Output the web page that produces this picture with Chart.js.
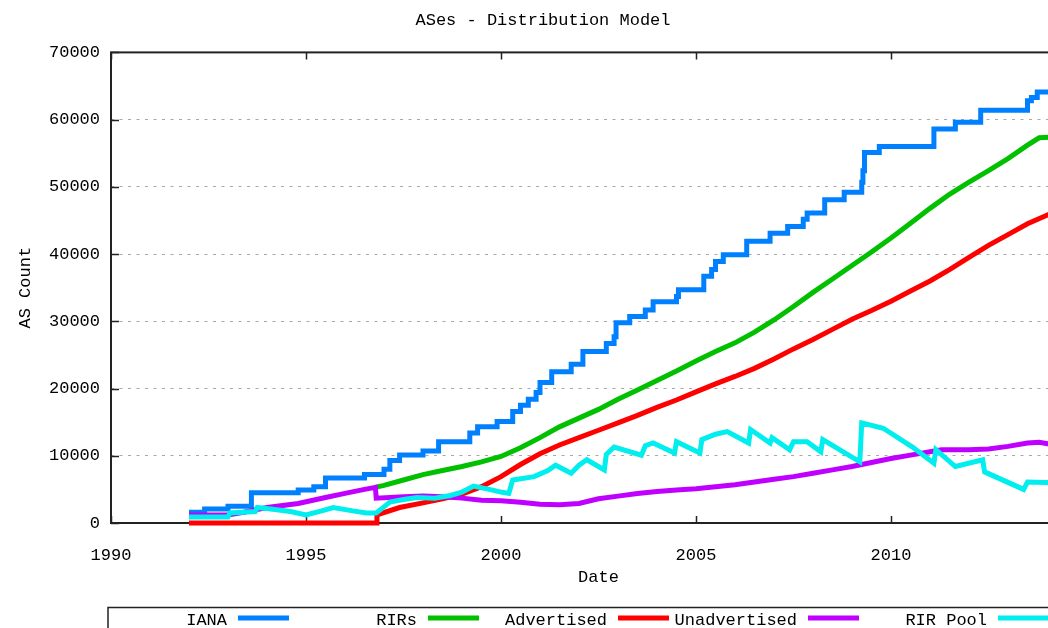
<!DOCTYPE html>
<html>
<head>
<meta charset="utf-8">
<script src="https://cdn.jsdelivr.net/npm/chart.js@4"></script>
<style>
  html, body { margin: 0; padding: 0; background: #fff; overflow: hidden; }
  #wrap { width: 1160px; height: 628px; }
</style>
</head>
<body>
<div id="wrap"><canvas id="chart" width="1160" height="628"></canvas></div>
<script>
// ASes - Distribution Model (gnuplot style line chart)

const seriesNames = ['IANA', 'RIRs', 'Advertised', 'Unadvertised', 'RIR Pool'];
const seriesColors = ['#0080ff', '#00c000', '#ff0000', '#c000ff', '#00eeee'];

// IANA: step function (x = year of step, y = new count)
const ianaYears = [1992.0, 1992.4, 1993.0, 1993.6, 1994.8, 1995.2, 1995.5, 1996.5, 1997.0, 1997.15,
  1997.4, 1998.0, 1998.4, 1999.2, 1999.4, 1999.9, 2000.3, 2000.5, 2000.7, 2000.9,
  2001.0, 2001.3, 2001.8, 2002.1, 2002.7, 2002.9, 2002.95, 2003.3, 2003.7, 2003.9,
  2004.5, 2004.55, 2005.2, 2005.4, 2005.5, 2005.7, 2006.3, 2006.9, 2007.35, 2007.75,
  2007.85, 2008.3, 2008.8, 2009.25, 2009.28, 2009.32, 2009.7, 2011.1, 2011.65, 2012.3,
  2013.5, 2013.6, 2013.75, 2014.2];
const ianaCounts = [1600, 2100, 2500, 4500, 4900, 5400, 6700, 7200, 8000, 9300,
  10100, 10700, 12100, 13400, 14300, 15100, 16600, 17500, 18400, 19400,
  20900, 22500, 23600, 25500, 26700, 27700, 29800, 30700, 31700, 32900,
  33700, 34700, 36700, 37700, 38900, 39900, 41900, 43100, 44100, 45200,
  46100, 48100, 49200, 50700, 52400, 55100, 56000, 58600, 59600, 61400,
  62800, 63300, 64100, 64100];

const rirYears = [1996.77, 1997.0, 1997.5, 1998.0, 1998.5, 1999.0, 1999.5, 2000.0, 2000.5, 2001.0,
  2001.5, 2002.0, 2002.5, 2003.0, 2003.5, 2004.0, 2004.5, 2005.0, 2005.5, 2006.0,
  2006.5, 2007.0, 2007.5, 2008.0, 2008.5, 2009.0, 2009.5, 2010.0, 2010.5, 2011.0,
  2011.5, 2012.0, 2012.5, 2013.0, 2013.5, 2013.8, 2014.2];
const rirCounts = [5300, 5600, 6400, 7200, 7800, 8400, 9100, 9900, 11200, 12700,
  14300, 15600, 16900, 18400, 19800, 21200, 22600, 24100, 25500, 26800,
  28400, 30200, 32200, 34300, 36300, 38300, 40300, 42400, 44600, 46800,
  48900, 50700, 52400, 54200, 56200, 57300, 57400];

const advYears = [1992.0, 1996.8, 1996.82, 1997.4, 1998.0, 1998.5, 1999.0, 1999.5, 2000.0, 2000.5,
  2001.0, 2001.5, 2002.0, 2002.5, 2003.0, 2003.5, 2004.0, 2004.5, 2005.0, 2005.5,
  2006.0, 2006.5, 2007.0, 2007.5, 2008.0, 2008.5, 2009.0, 2009.5, 2010.0, 2010.5,
  2011.0, 2011.5, 2012.0, 2012.5, 2013.0, 2013.5, 2014.2];
const advCounts = [0, 0, 1200, 2300, 3000, 3600, 4300, 5400, 6900, 8700,
  10300, 11600, 12700, 13800, 14900, 16000, 17200, 18300, 19500, 20700,
  21800, 23000, 24400, 25900, 27300, 28800, 30300, 31600, 33000, 34500,
  36000, 37700, 39500, 41300, 42900, 44500, 46300];

const unadvYears = [1992.0, 1993.0, 1993.4, 1994.0, 1994.8, 1995.5, 1996.0, 1996.5, 1996.78, 1996.8,
  1997.5, 1998.0, 1998.5, 1999.0, 1999.5, 2000.0, 2000.5, 2001.0, 2001.5, 2002.0,
  2002.5, 2003.0, 2003.5, 2004.0, 2004.5, 2005.0, 2005.5, 2006.0, 2006.5, 2007.0,
  2007.5, 2008.0, 2008.5, 2009.0, 2009.5, 2010.0, 2010.5, 2011.0, 2011.3, 2012.0,
  2012.5, 2013.0, 2013.5, 2013.8, 2014.2];
const unadvCounts = [1200, 1200, 1600, 2300, 2900, 3800, 4400, 5000, 5300, 3700,
  3900, 4000, 3900, 3700, 3400, 3300, 3100, 2800, 2700, 2900,
  3600, 4000, 4400, 4700, 4900, 5100, 5400, 5700, 6100, 6500,
  6900, 7400, 7900, 8400, 9000, 9600, 10100, 10600, 10900, 10900,
  11000, 11400, 11900, 12000, 11600];

const poolYears = [1992.0, 1993.0, 1993.05, 1993.7, 1993.75, 1994.2, 1994.6, 1995.0, 1995.4, 1995.7,
  1996.2, 1996.55, 1996.8, 1997.0, 1997.15, 1997.5, 1997.85, 1998.3, 1998.7, 1999.0,
  1999.3, 1999.7, 2000.0, 2000.2, 2000.3, 2000.85, 2001.2, 2001.4, 2001.8, 2002.0,
  2002.2, 2002.65, 2002.7, 2002.9, 2003.6, 2003.7, 2003.9, 2004.45, 2004.5, 2005.1,
  2005.15, 2005.5, 2005.8, 2006.35, 2006.4, 2006.9, 2006.95, 2007.4, 2007.5, 2007.85,
  2008.2, 2008.25, 2009.2, 2009.25, 2009.8, 2010.55, 2011.1, 2011.15, 2011.65, 2012.35,
  2012.4, 2013.4, 2013.5, 2014.2];
const poolCounts = [900, 900, 1500, 1700, 2300, 2000, 1700, 1200, 1800, 2300,
  1800, 1500, 1500, 2400, 3100, 3500, 3800, 3700, 4100, 4600,
  5500, 5000, 4600, 4400, 6400, 6900, 7800, 8600, 7400, 8600,
  9400, 7900, 10200, 11300, 10100, 11500, 11900, 10400, 12100, 10400,
  12400, 13200, 13600, 11900, 13900, 11900, 12700, 10900, 12100, 12100,
  10600, 12400, 9100, 14900, 14100, 11300, 8900, 10900, 8400, 9400,
  7600, 5000, 6100, 6000];

const xTicks = [1990, 1995, 2000, 2005, 2010, 2015];
const yTicks = [0, 10000, 20000, 30000, 40000, 50000, 60000, 70000];

const FONT = '"Liberation Mono", "DejaVu Sans Mono", monospace';

function toPoints(xs, ys) {
    return xs.map(function (x, i) { return { x: x, y: ys[i] }; });
}

const allYears = [ianaYears, rirYears, advYears, unadvYears, poolYears];
const allCounts = [ianaCounts, rirCounts, advCounts, unadvCounts, poolCounts];

const datasets = seriesNames.map(function (name, i) {
    return {
        label: name,
        data: toPoints(allYears[i], allCounts[i]),
        borderColor: seriesColors[i],
        backgroundColor: seriesColors[i],
        borderWidth: 5,
        pointRadius: 0,
        tension: 0,
        stepped: i === 0 ? 'before' : false,
        borderCapStyle: 'butt',
        borderJoinStyle: 'miter',
        fill: false,
        clip: 6,
        order: seriesNames.length - i
    };
});

// gnuplot-like frame with inward ticks
const framePlugin = {
    id: 'frame',
    beforeDatasetsDraw: function (chart) {
        const ctx = chart.ctx;
        const a = chart.chartArea;
        const xs = chart.scales.x;
        const ys = chart.scales.y;
        ctx.save();
        ctx.strokeStyle = '#222';
        ctx.lineWidth = 1.5;
        ctx.beginPath();
        xTicks.forEach(function (v) {
            const px = Math.round(xs.getPixelForValue(v)) + 0.5;
            ctx.moveTo(px, a.bottom);
            ctx.lineTo(px, a.bottom - 7);
            ctx.moveTo(px, a.top);
            ctx.lineTo(px, a.top + 7);
        });
        yTicks.forEach(function (v) {
            const py = Math.round(ys.getPixelForValue(v)) + 0.5;
            ctx.moveTo(a.left, py);
            ctx.lineTo(a.left + 8, py);
            ctx.moveTo(a.right, py);
            ctx.lineTo(a.right - 8, py);
        });
        ctx.stroke();
        ctx.lineWidth = 2;
        ctx.strokeRect(a.left, a.top, a.right - a.left, a.bottom - a.top);
        ctx.restore();
    }
};

// legend box at bottom: label text then line sample
const legendPlugin = {
    id: 'bottomLegend',
    afterDraw: function (chart) {
        const ctx = chart.ctx;
        ctx.save();
        ctx.strokeStyle = '#222';
        ctx.lineWidth = 1.5;
        ctx.strokeRect(108, 607.5, 1040, 40);
        ctx.font = '17px ' + FONT;
        ctx.textAlign = 'right';
        ctx.textBaseline = 'middle';
        chart.data.datasets.forEach(function (ds, i) {
            const x0 = 227 + i * 190;
            ctx.fillStyle = '#000';
            ctx.fillText(ds.label, x0, 620);
            ctx.strokeStyle = ds.borderColor;
            ctx.lineWidth = 5;
            ctx.beginPath();
            ctx.moveTo(x0 + 11, 618);
            ctx.lineTo(x0 + 62, 618);
            ctx.stroke();
        });
        ctx.restore();
    }
};

new Chart(document.getElementById('chart'), {
    type: 'line',
    data: { datasets: datasets },
    options: {
        responsive: false,
        animation: false,
        layout: { padding: { left: 0, right: 74, top: 0, bottom: 0 } },
        scales: {
            x: {
                type: 'linear',
                min: 1990,
                max: 2015,
                afterFit: function (scale) { scale.height = 105; },
                afterBuildTicks: function (scale) {
                    scale.ticks = xTicks.map(function (v) { return { value: v }; });
                },
                ticks: {
                    padding: 14,
                    color: '#000',
                    font: { family: FONT, size: 17 },
                    maxRotation: 0,
                    callback: function (v) { return String(v); }
                },
                grid: { display: false },
                border: { display: false },
                title: {
                    display: true,
                    text: 'Date',
                    color: '#000',
                    font: { family: FONT, size: 17 },
                    padding: { top: 0, bottom: 40 }
                }
            },
            y: {
                min: 0,
                max: 70000,
                afterFit: function (scale) { scale.width = 111; },
                afterBuildTicks: function (scale) {
                    scale.ticks = yTicks.map(function (v) { return { value: v }; });
                },
                ticks: {
                    padding: 11,
                    color: '#000',
                    font: { family: FONT, size: 17 },
                    callback: function (v) { return String(v); }
                },
                grid: {
                    drawTicks: false,
                    lineWidth: 1,
                    color: function (c) {
                        if (!c.tick || c.tick.value === 0 || c.tick.value === 70000) return 'rgba(0,0,0,0)';
                        return '#a8a8a8';
                    }
                },
                border: { display: false, dash: [3, 5.5] },
                title: {
                    display: true,
                    text: 'AS Count',
                    color: '#000',
                    font: { family: FONT, size: 17 },
                    padding: { top: 15, bottom: 0 }
                }
            }
        },
        plugins: {
            legend: { display: false },
            tooltip: { enabled: false },
            title: {
                display: true,
                text: 'ASes - Distribution Model',
                color: '#000',
                font: { family: FONT, size: 17, weight: 'normal' },
                padding: { top: 10, bottom: 22 }
            }
        }
    },
    plugins: [framePlugin, legendPlugin]
});
</script>
</body>
</html>
